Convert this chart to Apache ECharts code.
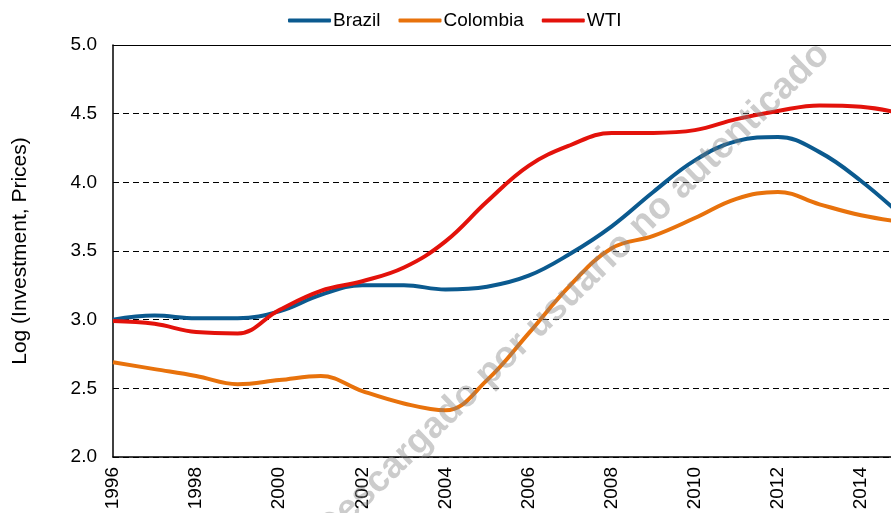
<!DOCTYPE html>
<html>
<head>
<meta charset="utf-8">
<script src="https://cdn.jsdelivr.net/npm/echarts@6/dist/echarts.min.js"></script>
<style>
  html, body { margin: 0; padding: 0; background: #fff; }
  #chart { width: 891px; height: 513px; }
</style>
</head>
<body>
<div id="chart"></div>
<script>
const years = [1996, 1997, 1998, 1999, 2000, 2001, 2002, 2003, 2004, 2005, 2006, 2007, 2008, 2009, 2010, 2011, 2012, 2013, 2014, 2015]
const brazil = [3.00, 3.03, 3.01, 3.01, 3.06, 3.18, 3.25, 3.25, 3.22, 3.24, 3.32, 3.48, 3.68, 3.93, 4.16, 4.30, 4.33, 4.22, 4.01, 3.75]
const colombia = [2.69, 2.64, 2.59, 2.53, 2.56, 2.59, 2.48, 2.39, 2.34, 2.56, 2.90, 3.25, 3.52, 3.61, 3.74, 3.88, 3.93, 3.84, 3.76, 3.71]
const wti = [2.99, 2.97, 2.91, 2.90, 3.07, 3.21, 3.28, 3.38, 3.57, 3.86, 4.12, 4.27, 4.36, 4.36, 4.38, 4.46, 4.52, 4.56, 4.55, 4.50]
const yTicks = [2.0, 2.5, 3.0, 3.5, 4.0, 4.5, 5.0]

const font = 'Liberation Sans, Arial, sans-serif'
const pairs = (vals) => years.map((y, i) => [y, vals[i]])

const chart = echarts.init(document.getElementById('chart'))

const lineSeries = (name, color, vals) => ({
  name: name,
  type: 'line',
  data: pairs(vals),
  smooth: 0.4,
  symbol: 'none',
  lineStyle: { color: color, width: 4 },
  itemStyle: { color: color },
  z: 3
})

chart.setOption({
  animation: false,
  textStyle: { fontFamily: font },
  legend: {
    top: 6,
    left: 283,
    itemWidth: 43,
    itemHeight: 4,
    itemGap: 18,
    icon: 'roundRect',
    textStyle: { fontSize: 19, color: '#000', fontFamily: font, padding: [0, 0, 0, -3] },
    data: ['Brazil', 'Colombia', 'WTI']
  },
  grid: { left: 113, right: 0, top: 45, bottom: 56 },
  xAxis: [
    {
      type: 'value',
      min: 1996,
      max: 2014.72,
      interval: 2,
      axisLine: { show: true, lineStyle: { color: '#000', width: 1.5 } },
      axisTick: { show: false },
      splitLine: { show: false },
      axisLabel: {
        rotate: 90,
        margin: 10,
        fontSize: 19,
        color: '#000',
        fontFamily: font,
        showMaxLabel: false,
        formatter: (v) => (v % 2 === 0 ? String(v) : '')
      }
    },
    {
      type: 'value',
      position: 'top',
      min: 1996,
      max: 2014.72,
      axisLine: { show: true, onZero: false, lineStyle: { color: '#000', width: 1 } },
      axisTick: { show: false },
      axisLabel: { show: false },
      splitLine: { show: false }
    }
  ],
  yAxis: {
    type: 'value',
    min: yTicks[0],
    max: yTicks[yTicks.length - 1],
    interval: 0.5,
    name: 'Log (Investment, Prices)',
    nameLocation: 'middle',
    nameGap: 82,
    nameTextStyle: { fontSize: 21, color: '#000', fontFamily: font },
    axisLine: { show: true, lineStyle: { color: '#000', width: 1.5 } },
    axisTick: { show: false },
    axisLabel: {
      margin: 16,
      fontSize: 19,
      color: '#000',
      fontFamily: font,
      formatter: (v) => v.toFixed(1)
    },
    splitLine: { show: true, lineStyle: { color: '#000', width: 1, type: [6, 4] } }
  },
  graphic: [
    {
      type: 'text',
      x: 573,
      y: 292,
      rotation: 0.77,
      z: 10,
      style: {
        text: 'Descargado por usuario no autenticado',
        fill: 'rgba(128,128,128,0.4)',
        font: 'bold 37px ' + font,
        align: 'center',
        verticalAlign: 'middle'
      }
    }
  ],
  series: [
    lineSeries('Brazil', '#0B5A8F', brazil),
    lineSeries('Colombia', '#E8720C', colombia),
    lineSeries('WTI', '#E3120B', wti)
  ]
})
</script>
</body>
</html>
